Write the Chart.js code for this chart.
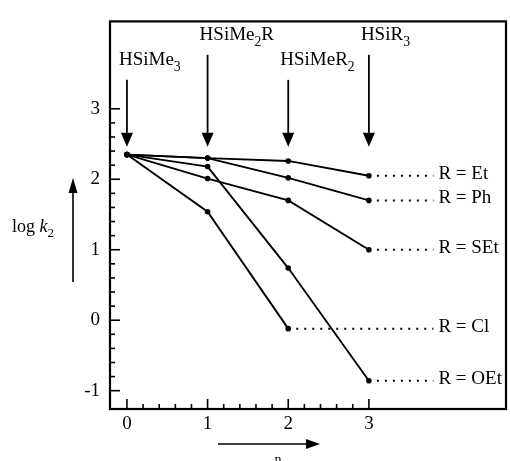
<!DOCTYPE html>
<html>
<head>
<meta charset="utf-8">
<script src="https://cdn.jsdelivr.net/npm/chart.js@4/dist/chart.umd.min.js"></script>
<style>
  body { margin: 0; background: #fff; }
  canvas { display: block; }
</style>
</head>
<body>
<canvas id="rateChart" width="510" height="461"></canvas>
<script>
// substitution step n and log k2 values
const nSteps = [0, 1, 2, 3];
const logK_Et = [2.35, 2.30, 2.26, 2.05];
const logK_Ph = [2.35, 2.30, 2.02, 1.70];
const logK_SEt = [2.35, 2.01, 1.70, 1.00];
const logK_Cl = [2.35, 1.54, -0.12];
const logK_OEt = [2.35, 2.18, 0.74, -0.86];
const seriesNames = ['Et', 'Ph', 'SEt', 'Cl', 'OEt'];
const seriesValues = [logK_Et, logK_Ph, logK_SEt, logK_Cl, logK_OEt];
// compound label above each n: [main, subscript, tail]
const compoundLabels = [['HSiMe', '3', ''], ['HSiMe', '2', 'R'], ['HSiMeR', '2', ''], ['HSiR', '3', '']];
const xTickValues = [0, 1, 2, 3];
const yTickValues = [-1, 0, 1, 2, 3];
const dotEndN = 3.80;

const FONT = "'Liberation Serif', 'DejaVu Serif', serif";

const datasets = [];
seriesValues.forEach((vals, i) => {
  datasets.push({
    label: 'R = ' + seriesNames[i],
    data: vals.map((v, k) => ({ x: nSteps[k], y: v })),
    borderColor: '#000',
    backgroundColor: '#000',
    borderWidth: 1.9,
    pointRadius: 2.8,
    pointBorderWidth: 0,
    tension: 0
  });
  const last = vals.length - 1;
  datasets.push({
    label: 'ext ' + seriesNames[i],
    data: [{ x: nSteps[last], y: vals[last] }, { x: dotEndN, y: vals[last] }],
    borderColor: '#000',
    borderWidth: 2,
    borderDash: [2, 6],
    pointRadius: 0
  });
});

function richText(ctx, parts, x, y, size) {
  // parts: [text, style] where style is '', 'sub', 'it'
  let cx = x;
  parts.forEach(([t, s]) => {
    if (!t) return;
    if (s === 'sub') {
      ctx.font = (size * 0.72) + 'px ' + FONT;
      ctx.fillText(t, cx, y + size * 0.3);
    } else {
      ctx.font = (s === 'it' ? 'italic ' : '') + size + 'px ' + FONT;
      ctx.fillText(t, cx, y);
    }
    cx += ctx.measureText(t).width;
  });
}

function arrow(ctx, x1, y1, x2, y2, head, half) {
  const a = Math.atan2(y2 - y1, x2 - x1);
  const bx = x2 - head * Math.cos(a), by = y2 - head * Math.sin(a);
  ctx.beginPath();
  ctx.moveTo(x1, y1);
  ctx.lineTo(bx, by);
  ctx.stroke();
  ctx.beginPath();
  ctx.moveTo(x2, y2);
  ctx.lineTo(bx + half * Math.sin(a), by - half * Math.cos(a));
  ctx.lineTo(bx - half * Math.sin(a), by + half * Math.cos(a));
  ctx.closePath();
  ctx.fill();
}

const decorPlugin = {
  id: 'decor',
  afterDatasetsDraw(chart) {
    const ctx = chart.ctx;
    const xs = chart.scales.x, ys = chart.scales.y;
    const a = chart.chartArea;
    ctx.save();
    ctx.strokeStyle = '#000';
    ctx.fillStyle = '#000';

    // frame
    ctx.lineWidth = 2.2;
    ctx.strokeRect(a.left, a.top, a.right - a.left, a.bottom - a.top);

    // inward ticks every 0.2
    ctx.lineWidth = 1.6;
    for (let i = -5; i <= 15; i++) {
      const v = i / 5;
      const len = i % 5 === 0 ? 10 : 5;
      const py = ys.getPixelForValue(v);
      ctx.beginPath(); ctx.moveTo(a.left, py); ctx.lineTo(a.left + len, py); ctx.stroke();
      if (i >= 0) {
        const px = xs.getPixelForValue(v);
        ctx.beginPath(); ctx.moveTo(px, a.bottom); ctx.lineTo(px, a.bottom - len); ctx.stroke();
      }
    }

    // compound arrows and names
    ctx.lineWidth = 1.8;
    ctx.textBaseline = 'alphabetic';
    ctx.textAlign = 'left';
    const tipY = ys.getPixelForValue(2.46);
    nSteps.forEach((n, i) => {
      const px = xs.getPixelForValue(n);
      const high = i % 2 === 1;
      const topY = tipY - (high ? 92 : 67);
      arrow(ctx, px, topY, px, tipY, 14, 6);
      const lbl = compoundLabels[i];
      richText(ctx, [[lbl[0], ''], [lbl[1], 'sub'], [lbl[2], '']], px - 8, topY - 15, 19);
    });

    // series labels at end of dotted lines
    ctx.textBaseline = 'middle';
    seriesValues.forEach((vals, i) => {
      const px = xs.getPixelForValue(dotEndN) + 5;
      const py = ys.getPixelForValue(vals[vals.length - 1]) - 2;
      richText(ctx, [['R = ' + seriesNames[i], '']], px, py, 19);
    });

    // y title with upward arrow
    ctx.textBaseline = 'alphabetic';
    richText(ctx, [['log ', ''], ['k', 'it'], ['2', 'sub']], 12, 232, 18);
    ctx.lineWidth = 1.6;
    arrow(ctx, 73, 282, 73, 178, 15, 4.5);

    // x title with right arrow
    arrow(ctx, 218, 444, 320, 444, 14, 5);
    ctx.textAlign = 'center';
    ctx.textBaseline = 'top';
    ctx.font = '14px ' + FONT;
    ctx.fillText('n', 278, 453);
    ctx.restore();
  }
};

new Chart(document.getElementById('rateChart'), {
  type: 'line',
  data: { datasets },
  options: {
    responsive: false,
    animation: false,
    layout: { padding: { top: 13, right: 2, left: 0, bottom: 0 } },
    plugins: { legend: { display: false }, tooltip: { enabled: false } },
    scales: {
      x: {
        type: 'linear',
        min: -0.21,
        max: 4.7,
        afterBuildTicks: s => { s.ticks = xTickValues.map(v => ({ value: v })); },
        afterFit: s => { s.height = 52; },
        grid: { display: false, drawTicks: false },
        border: { display: false },
        ticks: { color: '#000', font: { family: FONT, size: 19 }, padding: 4, maxRotation: 0 }
      },
      y: {
        type: 'linear',
        min: -1.26,
        max: 4.24,
        afterBuildTicks: s => { s.ticks = yTickValues.map(v => ({ value: v })); },
        afterFit: s => { s.width = 110; },
        grid: { display: false, drawTicks: false },
        border: { display: false },
        ticks: { color: '#000', font: { family: FONT, size: 19 }, padding: 10 }
      }
    }
  },
  plugins: [decorPlugin]
});
</script>
</body>
</html>
